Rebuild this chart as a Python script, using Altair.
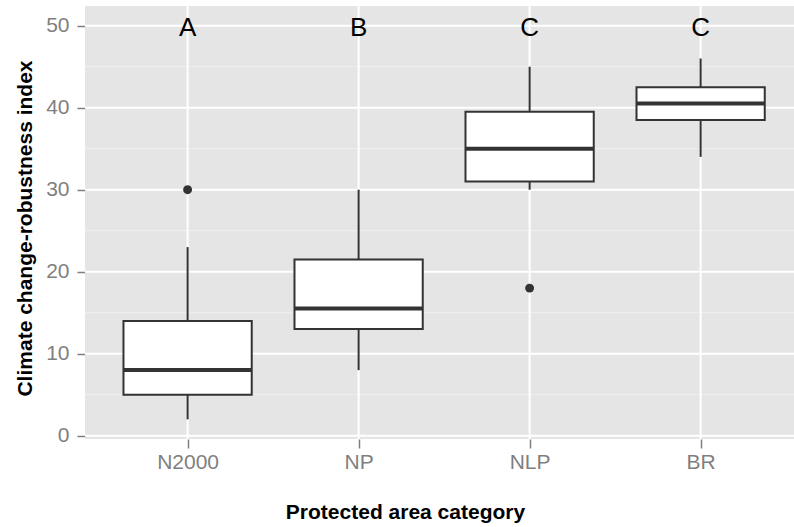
import altair as alt
import pandas as pd

cats = ["N2000", "NP", "NLP", "BR"]
lower = [2, 8, 30, 34]
q1 = [5, 13, 31, 38.5]
median = [8, 15.5, 35, 40.5]
q3 = [14, 21.5, 39.5, 42.5]
upper = [23, 30, 45, 46]
letters = ["A", "B", "C", "C"]
letter_y = [50, 50, 50, 50]
out_cats = ["N2000", "NLP"]
out_vals = [30, 18]
major_y = [0, 10, 20, 30, 40, 50]
minor_y = [5, 15, 25, 35, 45]

idx = {c: i + 1 for i, c in enumerate(cats)}
box = pd.DataFrame({
    "cat": cats,
    "pos": [idx[c] for c in cats],
    "lower": lower, "q1": q1, "median": median, "q3": q3, "upper": upper,
    "letter": letters, "ly": letter_y,
})
outl = pd.DataFrame({"cat": out_cats, "pos": [idx[c] for c in out_cats], "val": out_vals})
major_df = pd.DataFrame({"v": major_y})
minor_df = pd.DataFrame({"v": minor_y})
catpos_df = pd.DataFrame({"pos": [idx[c] for c in cats]})

FONT = "Liberation Sans"
GRAY = "#7f7f7f"
DARK = "#333333"

label_expr = "[" + ",".join("'%s'" % c for c in cats) + "][datum.value - 1]"

xscale = alt.Scale(domain=[0.4, 4.546], nice=False, zero=False)
yscale = alt.Scale(domain=[-0.4, 52.4], nice=False, zero=False)

xaxis = alt.Axis(values=[1, 2, 3, 4], labelExpr=label_expr, title="Protected area category",
                 grid=False, domain=False, tickColor=GRAY, tickSize=9, tickWidth=1.5,
                 labelColor=GRAY, labelFontSize=21, labelFont=FONT, labelPadding=3,
                 titleFont=FONT, titleFontSize=21, titleFontWeight="bold", titleColor="black",
                 titleX=320, titleY=79, titleBaseline="alphabetic", titleAlign="center")
yaxis = alt.Axis(values=major_y, title="Climate change-robustness index",
                 grid=False, domain=False, tickColor=GRAY, tickSize=8, tickWidth=1.5,
                 labelColor=GRAY, labelFontSize=21, labelFont=FONT, labelPadding=8,
                 titleFont=FONT, titleFontSize=21, titleFontWeight="bold", titleColor="black",
                 titleX=-53.5, titleY=222, titleAngle=270, titleBaseline="alphabetic",
                 titleAlign="center")

X = lambda f: alt.X(f, type="quantitative", scale=xscale, axis=xaxis)
Y = lambda f: alt.Y(f, type="quantitative", scale=yscale, axis=yaxis)

minor = alt.Chart(minor_df).mark_rule(color="#f0f0f0", strokeWidth=1).encode(y=Y("v"))
major = alt.Chart(major_df).mark_rule(color="white", strokeWidth=2).encode(y=Y("v"))
vert = alt.Chart(catpos_df).mark_rule(color="white", strokeWidth=2).encode(x=X("pos"))

base = alt.Chart(box).transform_calculate(
    left="datum.pos - 0.375", right="datum.pos + 0.375"
)

whisk_hi = base.mark_rule(color=DARK, strokeWidth=2).encode(x=X("pos"), y=Y("q3"), y2="upper")
whisk_lo = base.mark_rule(color=DARK, strokeWidth=2).encode(x=X("pos"), y=Y("lower"), y2="q1")
boxes = base.mark_bar(fill="white", stroke=DARK, strokeWidth=2).encode(
    x=X("left:Q"), x2="right:Q", y=Y("q1"), y2="q3")
med = base.mark_rule(color=DARK, strokeWidth=4).encode(
    x=X("left:Q"), x2="right:Q", y=Y("median"))
pts = alt.Chart(outl).mark_circle(color=DARK, size=80, opacity=1).encode(x=X("pos"), y=Y("val"))
txt = base.mark_text(font=FONT, fontSize=26, color="black", baseline="middle", dy=2).encode(
    x=X("pos"), y=Y("ly"), text="letter:N")

chart = alt.layer(minor, major, vert, whisk_hi, whisk_lo, boxes, med, pts, txt).properties(
    width=709, height=433,
    background="white",
    autosize=alt.AutoSizeParams(type="none"),
    padding={"left": 85, "top": 6, "right": 0, "bottom": 88},
).configure_view(fill="#E5E5E5", stroke=None)

chart.save("out.html", embed_options={"renderer": "svg", "actions": False})
